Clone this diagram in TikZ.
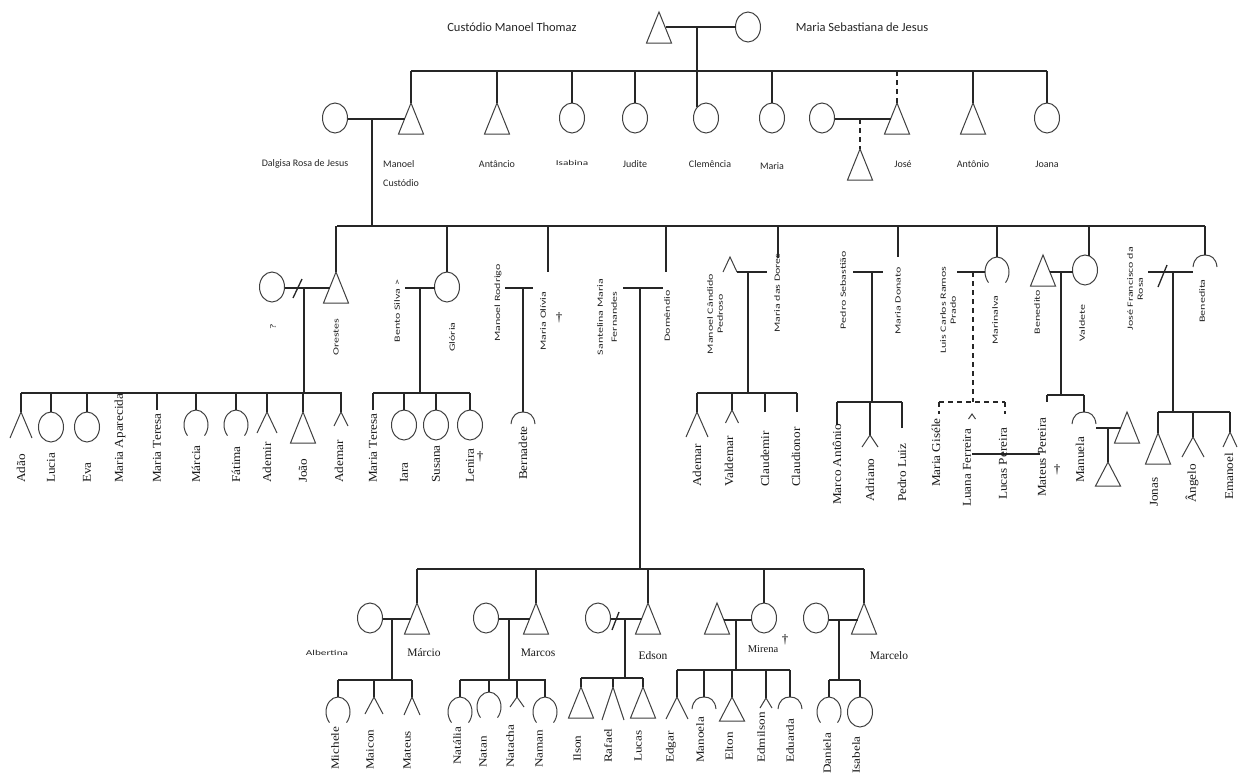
\documentclass[tikz,border=0pt]{standalone}
\usepackage{fontspec}
\setmainfont{Liberation Serif}
\newfontfamily\topsans{Carlito}
\newfontfamily\tsans[FakeStretch=1.5]{Carlito}
\newfontfamily\rser[FakeStretch=1.1]{Liberation Serif}
\newfontfamily\rserb[FakeStretch=1.2]{Liberation Serif}
\tikzset{
  ln/.style={line width=1.3pt, draw=black!85},
  dln/.style={ln, dash pattern=on 5pt off 4pt},
  shp/.style={line width=1pt, draw=black!75},
  pics/male/.style={code={\draw[shp] (0,0) -- (12.5,31) -- (-12.5,31) -- cycle;}},
  pics/maleS/.style={code={\draw[shp] (0,0) -- (12.5,24) -- (-12.5,24) -- cycle;}},
  pics/female/.style={code={\draw[shp] (0,15) ellipse [x radius=12.5pt, y radius=15pt];}},
  pics/fopen/.style={code={\draw[shp] (-8.5,25.6) .. controls (-10.5,23) and (-12,19) .. (-12,15) .. controls (-12,6.7) and (-6.6,0) .. (0,0) .. controls (6.6,0) and (12,6.7) .. (12,15) .. controls (12,19) and (10.5,23) .. (8.5,25.6);}},
  pics/fcap/.style={code={\draw[shp] (-12,12) .. controls (-11,3) and (-6,0) .. (0,0) .. controls (6,0) and (11,3) .. (12,12);}},
  pics/lam/.style args={#1/#2}{code={\draw[shp] (-#1,#2) -- (0,0) -- (#1,#2);}},
  tl/.style={font=\topsans\fontsize{12.5}{14}\selectfont, text=black!85, inner sep=0pt},
  gl/.style={font=\topsans\fontsize{10}{12}\selectfont, text=black!85, inner sep=0pt},
  hs/.style={font=\tsans\fontsize{7.5}{9}\selectfont, text=black!85, inner sep=0pt},
  sp/.style={font=\tsans\fontsize{8}{10}\selectfont, text=black!85, rotate=90, align=center, inner sep=0pt},
  ch/.style={font=\rser\fontsize{12}{13}\selectfont, text=black!90, rotate=90, anchor=west, inner sep=0pt},
  chb/.style={font=\rserb\fontsize{11}{12}\selectfont, text=black!90, rotate=90, anchor=west, inner sep=0pt},
  g4/.style={font=\fontsize{11.5}{13}\selectfont, text=black!90, inner sep=0pt},
  dg/.style={font=\fontsize{13}{14}\selectfont, text=black, inner sep=0pt},
}
\begin{document}
\begin{tikzpicture}[x=1pt,y=-1pt]
\fill[white] (0,0) rectangle (1244,772);
\useasboundingbox (0,0) rectangle (1244,772);

% ---------- Generation 1 ----------
\coordinate (cmt) at (659,12); \pic at (cmt) {male};
\coordinate (msj) at (748,12); \pic at (msj) {female};
\draw[ln] (665.5,27) -- (735.5,27);
\draw[ln] (697,27) -- (697,107);
\draw[ln] (411,71) -- (1047,71);
\node[tl] (tcmt) at (512,27) {Custódio Manoel Thomaz};
\node[tl] (tmsj) at (862,27) {Maria Sebastiana de Jesus};

% ---------- Generation 2 ----------
\coordinate (dal) at (335,103); \pic at (dal) {female};
\coordinate (man) at (411,103); \pic at (man) {male};
\draw[ln] (man) -- ++(0,-32);
\draw[ln] (347.5,119) -- (404.5,119);
\draw[ln] (372,119) -- (372,226);
\coordinate (ant1) at (497,103); \pic at (ant1) {male}; \draw[ln] (ant1) -- ++(0,-32);
\coordinate (isa) at (572,103); \pic at (isa) {female}; \draw[ln] (isa) -- ++(0,-32);
\coordinate (jud) at (635,103); \pic at (jud) {female}; \draw[ln] (jud) -- ++(0,-32);
\coordinate (cle) at (706,103); \pic at (cle) {female};
\coordinate (mar) at (772,103); \pic at (mar) {female}; \draw[ln] (mar) -- ++(0,-32);
\coordinate (jw) at (822,103); \pic at (jw) {female};
\coordinate (jose) at (897,103); \pic at (jose) {male};
\draw[dln] (jose) -- ++(0,-32);
\draw[ln] (834.5,119) -- (890.5,119);
\coordinate (jc) at (860,149); \pic at (jc) {male};
\draw[dln] (860,119) -- (jc);
\coordinate (ant2) at (973,103); \pic at (ant2) {male}; \draw[ln] (ant2) -- ++(0,-32);
\coordinate (joa) at (1047,103); \pic at (joa) {female}; \draw[ln] (joa) -- ++(0,-32);

\node[gl] (tdal) at (305,164) {Dalgisa Rosa de Jesus};
\node[gl, anchor=west] (tman1) at (383,164) {Manoel};
\node[gl, anchor=west] (tman2) at (383,183) {Custódio};
\node[gl] (tant1) at (497,164) {Antâncio};
\node[hs] (tisa) at (572,163) {Isabina};
\node[gl] (tjud) at (635,164) {Judite};
\node[gl] (tcle) at (710,164) {Clemência};
\node[gl] (tmar) at (772,166) {Maria};
\node[gl] (tjose) at (903,164) {José};
\node[gl] (tant2) at (973,164) {Antônio};
\node[gl] (tjoa) at (1047,164) {Joana};

% ---------- Generation 3 ----------
\draw[ln] (337,226) -- (1205,226);

% Family A: Orestes
\coordinate (ore) at (336,272); \pic at (ore) {male}; \draw[ln] (ore) -- ++(0,-46);
\coordinate (orw) at (272,272); \pic at (orw) {female};
\draw[ln] (284.5,288) -- (329.5,288);
\draw[ln] (293,298) -- (302,279);
\draw[ln] (304,288) -- (304,393);
\draw[ln] (21,393) -- (342,393);
\node[sp] (tore) at (336,337) {Orestes};
\node[sp] (torw) at (273,327) {?};
\coordinate (adao) at (21,412); \pic at (adao) {lam=11/26}; \draw[ln] (adao) -- ++(0,-19);
\coordinate (luc) at (51,412); \pic at (luc) {female}; \draw[ln] (luc) -- ++(0,-19);
\coordinate (eva) at (87,412); \pic at (eva) {female}; \draw[ln] (eva) -- ++(0,-19);
\coordinate (mte1) at (157,410); \draw[ln] (mte1) -- ++(0,-17);
\coordinate (marc) at (196,410); \pic at (marc) {fopen}; \draw[ln] (marc) -- ++(0,-17);
\coordinate (fat) at (236,410); \pic at (fat) {fopen}; \draw[ln] (fat) -- ++(0,-17);
\coordinate (adm1) at (267,412); \pic at (adm1) {lam=10/21}; \draw[ln] (adm1) -- ++(0,-19);
\coordinate (joao) at (303,412); \pic at (joao) {male}; \draw[ln] (joao) -- ++(0,-19);
\coordinate (adr1) at (341,412); \pic at (adr1) {lam=7/14}; \draw[ln] (adr1) -- ++(0,-19);
\node[ch] at (21,483) {Adão};
\node[ch] at (51,483) {Lucia};
\node[ch] at (87,483) {Eva};
\node[ch] at (120,483) {Maria Aparecida};
\node[ch] at (157,483) {Maria Teresa};
\node[ch] at (196,483) {Márcia};
\node[ch] at (236,483) {Fátima};
\node[ch] at (267,483) {Ademir};
\node[ch] at (303,483) {João};
\node[ch] at (339,483) {Ademar};

% Family B: Gloria
\coordinate (glo) at (447,272); \pic at (glo) {female}; \draw[ln] (glo) -- ++(0,-46);
\draw[ln] (405,288) -- (434.5,288);
\draw[ln] (420,288) -- (420,393);
\draw[ln] (373,393) -- (470,393);
\node[sp] (tben) at (397,311) {Bento Silva >};
\node[sp] (tglo) at (452,337) {Glória};
\coordinate (mte2) at (373,410); \draw[ln] (mte2) -- ++(0,-17);
\coordinate (iara) at (404,410); \pic at (iara) {female}; \draw[ln] (iara) -- ++(0,-17);
\coordinate (sus) at (436,410); \pic at (sus) {female}; \draw[ln] (sus) -- ++(0,-17);
\coordinate (len) at (470,410); \pic at (len) {female}; \draw[ln] (len) -- ++(0,-17);
\node[ch] at (373,483) {Maria Teresa};
\node[ch] at (404,483) {Iara};
\node[ch] at (436,483) {Susana};
\node[ch] at (470,483) {Lenira};
\node[dg] at (480,457) {†};

% Family C: Maria Olivia
\draw[ln] (548,226) -- (548,272);
\draw[ln] (505,288) -- (533,288);
\draw[ln] (523,288) -- (523,412);
\coordinate (ber) at (523,412); \pic at (ber) {fcap};
\node[sp] (tmro) at (498,303) {Manoel Rodrigo};
\node[sp] (tmol) at (543,321) {Maria Olívia};
\node[dg] at (559,318) {†};
\node[ch] at (523,480) {Bernadete};

% Family D: Domendio
\draw[ln] (666,226) -- (666,272);
\draw[ln] (623,288) -- (663,288);
\draw[ln] (640,288) -- (640,569);
\node[sp, font=\tsans\fontsize{8}{14}\selectfont] (tsan) at (607,317) {Santelina Maria\\Fernandes};
\node[sp] (tdom) at (667,316) {Domêndio};

% Family E: Maria das Dores
\draw[ln] (778,226) -- (778,258);
\coordinate (mcp) at (730,257); \pic at (mcp) {lam=7/15};
\draw[ln] (737,272) -- (767,272);
\draw[ln] (748,272) -- (748,393);
\draw[ln] (697,393) -- (797,393);
\node[sp] (tmcp) at (715,314) {Manoel Cândido\\Pedroso};
\node[sp] (tmdd) at (777,293) {Maria das Dores};
\coordinate (adr2) at (697,412); \pic at (adr2) {lam=11/25}; \draw[ln] (adr2) -- ++(0,-19);
\coordinate (val) at (732,410); \pic at (val) {lam=6.5/13}; \draw[ln] (val) -- ++(0,-17);
\coordinate (cld) at (765,412); \draw[ln] (cld) -- ++(0,-19);
\coordinate (cln) at (797,412); \draw[ln] (cln) -- ++(0,-19);
\node[ch] at (697,487) {Ademar};
\node[ch] at (729,487) {Valdemar};
\node[ch] at (765,487) {Claudemir};
\node[ch] at (796,487) {Claudionor};

% Family F: Maria Donato
\draw[ln] (898,226) -- (898,257);
\draw[ln] (853,272) -- (883,272);
\draw[ln] (872,272) -- (872,402);
\draw[ln] (837,402) -- (902,402);
\node[sp] (tpse) at (843,290) {Pedro Sebastião};
\node[sp] (tmdo) at (898,301) {Maria Donato};
\coordinate (mant) at (837,425); \draw[ln] (mant) -- ++(0,-23);
\coordinate (adri) at (870,435); \pic at (adri) {lam=8/12}; \draw[ln] (adri) -- ++(0,-33);
\coordinate (pluz) at (902,428); \draw[ln] (pluz) -- ++(0,-26);
\node[ch] at (837,505) {Marco Antônio};
\node[ch] at (870,502) {Adriano};
\node[ch] at (902,502) {Pedro Luiz};

% Family G: Marinalva
\coordinate (mna) at (997,257); \pic at (mna) {fopen}; \draw[ln] (mna) -- ++(0,-31);
\draw[ln] (957,272) -- (985,272);
\draw[dln] (973,272) -- (973,402);
\draw[dln] (939,402) -- (1005,402);
\draw[dln] (939,402) -- (939,414);
\draw[dln] (1005,402) -- (1005,414);
\coordinate (lua) at (972,414); \pic at (lua) {lam=3.5/5};
\draw[ln] (972,454) -- (1040,454);
\node[sp] (tlcr) at (948,310) {Luis Carlos Ramos\\Prado};
\node[sp] (tmna) at (995,320) {Marinalva};
\node[ch] at (936,487) {Maria Giséle};
\node[ch] at (967,507) {Luana Ferreira};
\node[ch] at (1003,500) {Lucas Pereira};

% Family H: Valdete
\coordinate (vald) at (1085,255); \pic at (vald) {female};
\draw[ln] (1089,226) -- (1089,255.5);
\coordinate (bdo) at (1043,255); \pic at (bdo) {male};
\draw[ln] (1050,272) -- (1072.5,272);
\draw[ln] (1061,272) -- (1061,395);
\draw[ln] (1047,395) -- (1084,395);
\node[sp] (tbdo) at (1037,312) {Benedito};
\node[sp] (tvald) at (1082,323) {Valdete};
\draw[ln] (1047,395) -- (1047,402);
\node[ch] at (1042,497) {Mateus Pereira};
\node[dg] at (1057,470) {†};
\coordinate (mnu) at (1084,412); \pic at (mnu) {fcap}; \draw[ln] (mnu) -- ++(0,-17);
\node[ch] at (1080,483) {Manuela};
\coordinate (mnh) at (1127,412); \pic at (mnh) {male};
\draw[ln] (1096,428) -- (1120.5,428);
\coordinate (mnc) at (1108,462); \pic at (mnc) {maleS};
\draw[ln] (1108,428) -- (mnc);

% Family I: Benedita
\coordinate (bta) at (1205,255); \pic at (bta) {fcap}; \draw[ln] (bta) -- ++(0,-29);
\draw[ln] (1148,272) -- (1193,272);
\draw[ln] (1158,287) -- (1167,265);
\draw[ln] (1173,272) -- (1173,412);
\draw[ln] (1158,412) -- (1230,412);
\node[sp] (tjfr) at (1135,289) {José Francisco da\\Rosa};
\node[sp] (tbta) at (1202,301) {Benedita};
\coordinate (jon) at (1158,433); \pic at (jon) {male}; \draw[ln] (jon) -- ++(0,-21);
\coordinate (ang) at (1193,437); \pic at (ang) {lam=11/20}; \draw[ln] (ang) -- ++(0,-25);
\coordinate (ema) at (1230,432); \pic at (ema) {lam=7/15}; \draw[ln] (ema) -- ++(0,-20);
\node[ch] at (1154,507) {Jonas};
\node[ch] at (1192,503) {Ângelo};
\node[ch] at (1229,500) {Emanoel};

% ---------- Generation 4 ----------
\draw[ln] (417,569) -- (864,569);

% Marcio
\coordinate (mcio) at (417,603); \pic at (mcio) {male}; \draw[ln] (mcio) -- ++(0,-34);
\coordinate (alb) at (370,603); \pic at (alb) {female};
\draw[ln] (382.5,619) -- (410.5,619);
\draw[ln] (392,619) -- (392,680);
\draw[ln] (338,680) -- (412,680);
\node[hs] (talb) at (327,653) {Albertina};
\node[g4] (tmcio) at (424,653) {Márcio};
\coordinate (mic) at (338,697); \pic at (mic) {fopen}; \draw[ln] (mic) -- ++(0,-17);
\coordinate (mai) at (374,697); \pic at (mai) {lam=9/17}; \draw[ln] (mai) -- ++(0,-17);
\coordinate (mat) at (412,697); \pic at (mat) {lam=8/18}; \draw[ln] (mat) -- ++(0,-17);
\node[chb] at (335,770) {Michele};
\node[chb] at (370,770) {Maicon};
\node[chb] at (407,770) {Mateus};

% Marcos
\coordinate (mcos) at (536,603); \pic at (mcos) {male}; \draw[ln] (mcos) -- ++(0,-34);
\coordinate (mcw) at (486,603); \pic at (mcw) {female};
\draw[ln] (498.5,619) -- (529.5,619);
\draw[ln] (509,619) -- (509,680);
\draw[ln] (460,680) -- (546,680);
\node[g4] (tmcos) at (538,653) {Marcos};
\coordinate (nta) at (460,697); \pic at (nta) {fopen}; \draw[ln] (nta) -- ++(0,-17);
\coordinate (ntn) at (489,692); \pic at (ntn) {fopen}; \draw[ln] (ntn) -- ++(0,-12);
\coordinate (ntc) at (517,697); \pic at (ntc) {lam=7/10}; \draw[ln] (ntc) -- ++(0,-17);
\coordinate (nmn) at (545,697); \pic at (nmn) {fopen}; \draw[ln] (nmn) -- ++(0,-17);
\node[chb] at (457,765) {Natália};
\node[chb] at (483,768) {Natan};
\node[chb] at (510,768) {Natacha};
\node[chb] at (539,768) {Naman};

% Edson
\coordinate (eds) at (648,603); \pic at (eds) {male}; \draw[ln] (eds) -- ++(0,-34);
\coordinate (edw) at (598,603); \pic at (edw) {female};
\draw[ln] (610.5,619) -- (641.5,619);
\draw[ln] (612,630) -- (619,612);
\draw[ln] (625,619) -- (625,678);
\draw[ln] (581,678) -- (643,678);
\node[g4] (teds) at (653,656) {Edson};
\coordinate (ils) at (581,687); \pic at (ils) {male}; \draw[ln] (ils) -- ++(0,-9);
\coordinate (raf) at (613,687); \pic at (raf) {lam=11/33}; \draw[ln] (raf) -- ++(0,-9);
\coordinate (luk) at (643,687); \pic at (luk) {male}; \draw[ln] (luk) -- ++(0,-9);
\node[chb] at (577,762) {Ilson};
\node[chb] at (608,763) {Rafael};
\node[chb] at (638,762) {Lucas};

% Mirena
\coordinate (mir) at (764,603); \pic at (mir) {female}; \draw[ln] (mir) -- ++(0,-34);
\coordinate (mih) at (717,603); \pic at (mih) {male};
\draw[ln] (723.5,620) -- (751.5,620);
\draw[ln] (736,620) -- (736,670);
\draw[ln] (677,670) -- (790,670);
\node[dg] at (785,640) {†};
\node[g4, font=\fontsize{10.5}{12}\selectfont] (tmir) at (763,649) {Mirena};
\coordinate (edg) at (677,697); \pic at (edg) {lam=11/22}; \draw[ln] (edg) -- ++(0,-27);
\coordinate (mno) at (704,697); \pic at (mno) {fcap}; \draw[ln] (mno) -- ++(0,-27);
\coordinate (elt) at (732,697); \pic at (elt) {maleS}; \draw[ln] (elt) -- ++(0,-27);
\coordinate (edm) at (766,698); \pic at (edm) {lam=6/10}; \draw[ln] (edm) -- ++(0,-28);
\coordinate (edu) at (790,697); \pic at (edu) {fcap}; \draw[ln] (edu) -- ++(0,-27);
\node[chb] at (671,763) {Edgar};
\node[chb] at (700,763) {Manoela};
\node[chb] at (729,761) {Elton};
\node[chb] at (761,763) {Edmilson};
\node[chb] at (790,763) {Eduarda};

% Marcelo
\coordinate (mclo) at (864,603); \pic at (mclo) {male}; \draw[ln] (mclo) -- ++(0,-34);
\coordinate (mcw2) at (816,603); \pic at (mcw2) {female};
\draw[ln] (828.5,620) -- (857.5,620);
\draw[ln] (839,620) -- (839,680);
\draw[ln] (829,680) -- (860,680);
\node[g4] (tmclo) at (889,656) {Marcelo};
\coordinate (dan) at (829,697); \pic at (dan) {fopen}; \draw[ln] (dan) -- ++(0,-17);
\coordinate (isb) at (860,697); \pic at (isb) {female}; \draw[ln] (isb) -- ++(0,-17);
\node[chb] at (827,774) {Daniela};
\node[chb] at (856,774) {Isabela};
\end{tikzpicture}
\end{document}
